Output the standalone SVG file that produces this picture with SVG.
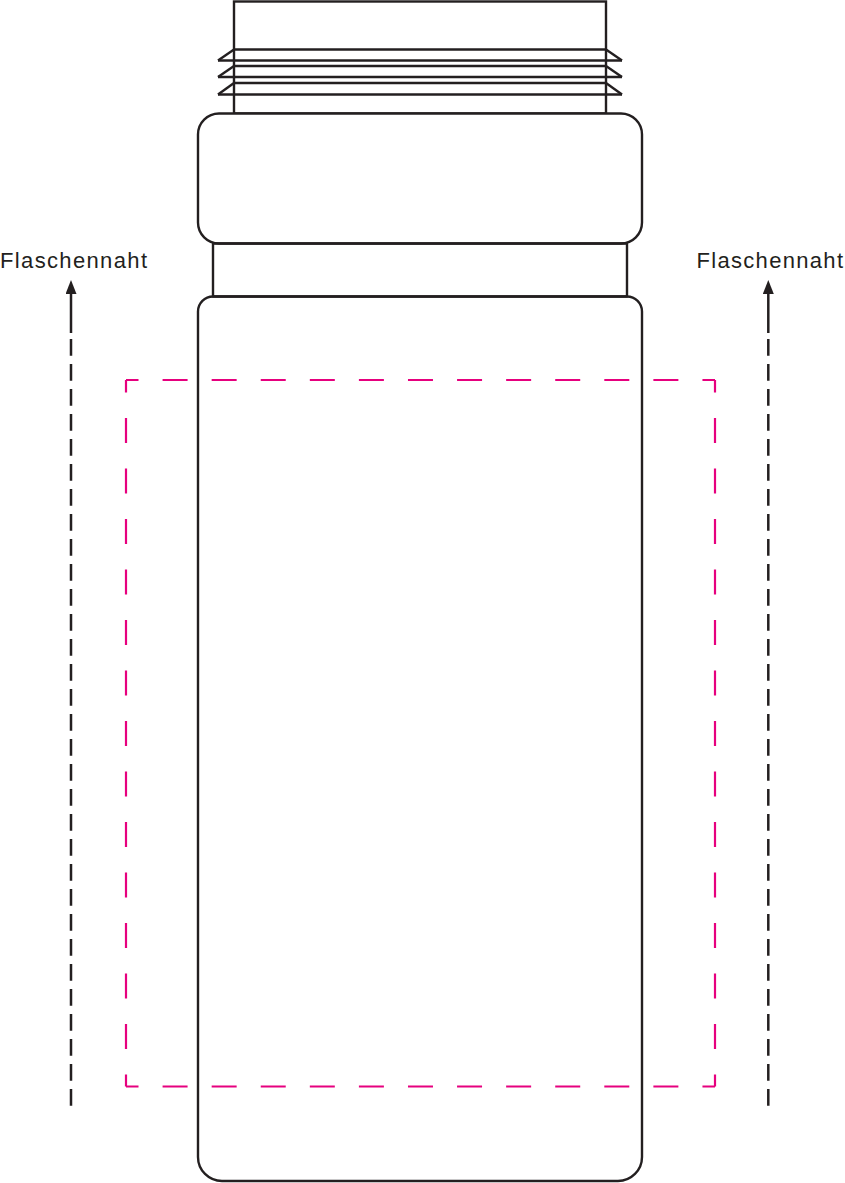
<svg xmlns="http://www.w3.org/2000/svg" width="845" height="1183" viewBox="0 0 845 1183">
<style>
.ln{fill:none;stroke:#231f20;stroke-width:2.4;stroke-linejoin:round}
.sh{fill:#ffffff;stroke:#231f20;stroke-width:2.4}
.mg{fill:none;stroke:#e6007e;stroke-width:2.2}
.seam{fill:none;stroke:#231f20;stroke-width:2.5}
.lbl{font-family:"Liberation Sans",Arial,sans-serif;font-size:22px;fill:#231f20}
</style>
<defs>
<marker id="arr" viewBox="0 0 14 11" refX="4" refY="5.5" markerWidth="14" markerHeight="11" markerUnits="userSpaceOnUse" orient="auto">
<polygon points="14,5.5 0,0 0,11" fill="#231f20"/>
</marker>
</defs>
<rect width="845" height="1183" fill="#ffffff"/>
<g id="print-area">
<line class="mg" x1="126" y1="380" x2="715" y2="380" stroke-dasharray="25 24.08" stroke-dashoffset="12.5"/>
<line class="mg" x1="126" y1="1086.5" x2="715" y2="1086.5" stroke-dasharray="25 24.08" stroke-dashoffset="12.5"/>
<line class="mg" x1="126" y1="380" x2="126" y2="1086.5" stroke-dasharray="25 25.5" stroke-dashoffset="12.5"/>
<line class="mg" x1="715" y1="380" x2="715" y2="1086.5" stroke-dasharray="25 25.5" stroke-dashoffset="12.5"/>
</g>
<g id="bottle">
<rect class="sh" x="234" y="1.5" width="372" height="112"/>
<g id="thread">
<line class="ln" x1="234" y1="49.5" x2="606" y2="49.5"/>
<line class="ln" x1="218" y1="60.5" x2="622" y2="60.5"/>
<polyline class="ln" points="234,49.5 218,60.5"/>
<polyline class="ln" points="606,49.5 622,60.5"/>
<line class="ln" x1="234" y1="66" x2="606" y2="66"/>
<line class="ln" x1="218" y1="77" x2="622" y2="77"/>
<polyline class="ln" points="234,66 218,77"/>
<polyline class="ln" points="606,66 622,77"/>
<line class="ln" x1="234" y1="83" x2="606" y2="83"/>
<line class="ln" x1="218" y1="94.5" x2="622" y2="94.5"/>
<polyline class="ln" points="234,83 218,94.5"/>
<polyline class="ln" points="606,83 622,94.5"/>
</g>
<rect id="cap" class="sh" x="198" y="113.5" width="444" height="130" rx="21" ry="21"/>
<rect id="collar" class="ln" x="213" y="243.5" width="414" height="53"/>
<path id="body" class="ln" d="M213,296.5 H627 A15,15 0 0 1 642,311.5 V1157 A24,24 0 0 1 618,1181 H222 A24,24 0 0 1 198,1157 V311.5 A15,15 0 0 1 213,296.5 Z"/>
</g>
<g id="connectors">
<line class="seam" x1="71" y1="333" x2="71" y2="290" marker-end="url(#arr)"/>
<line class="seam" x1="71" y1="339" x2="71" y2="1105.7" stroke-dasharray="16.7 8.3"/>
<line class="seam" x1="768.3" y1="333" x2="768.3" y2="290" marker-end="url(#arr)"/>
<line class="seam" x1="768.3" y1="339" x2="768.3" y2="1105.7" stroke-dasharray="16.7 8.3"/>
</g>
<g id="label-left">
<text class="lbl" x="0" y="267.5" textLength="147" lengthAdjust="spacing">Flaschennaht</text>
</g>
<g id="label-right">
<text class="lbl" x="696.5" y="267.5" textLength="146.5" lengthAdjust="spacing">Flaschennaht</text>
</g>
</svg>
